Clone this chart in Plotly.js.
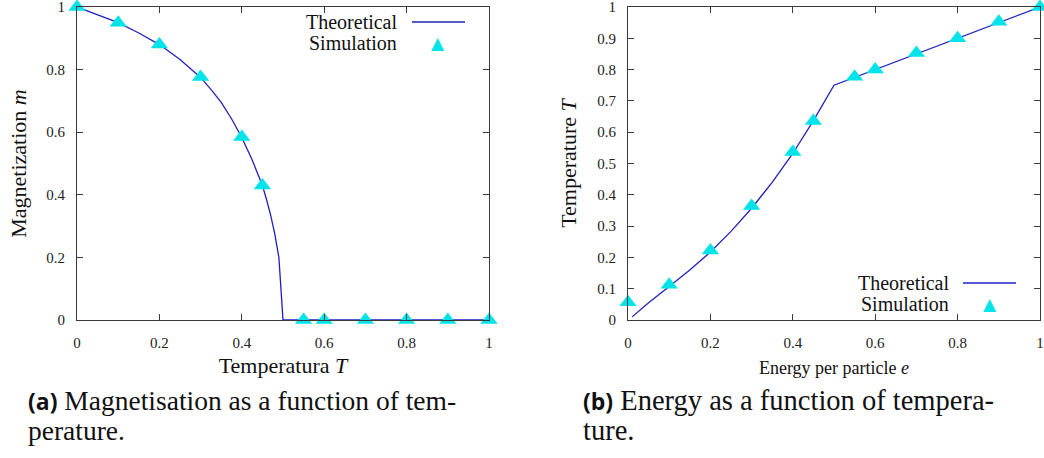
<!DOCTYPE html>
<html>
<head>
<meta charset="utf-8">
<script src="https://cdn.plot.ly/plotly-3.0.1.min.js"></script>
<style>
  html, body { margin: 0; padding: 0; background: #ffffff; }
  #chart { width: 1044px; height: 458px; }
</style>
</head>
<body>
<div id="chart"></div>
<script>
// ---- Panel (a): Magnetisation vs temperature ----
const magTheoryT = [0, 0.05, 0.1, 0.15, 0.2, 0.25, 0.3, 0.325, 0.35, 0.375, 0.4, 0.425, 0.45, 0.46, 0.47, 0.48, 0.49, 0.5, 0.6, 0.7, 0.8, 0.9, 1.0];
const magTheoryM = [1, 0.975, 0.95, 0.917, 0.88, 0.832, 0.775, 0.737, 0.695, 0.643, 0.583, 0.512, 0.43, 0.385, 0.335, 0.275, 0.2, 0, 0, 0, 0, 0, 0];
const magSimT = [0, 0.1, 0.2, 0.3, 0.4, 0.45, 0.55, 0.6, 0.7, 0.8, 0.9, 1.0];
const magSimM = [1, 0.95, 0.88, 0.776, 0.585, 0.43, 0, 0, 0, 0, 0, 0];

// ---- Panel (b): Temperature vs energy per particle ----
const enTheoryE = [0.01, 0.05, 0.1, 0.15, 0.2, 0.25, 0.3, 0.35, 0.4, 0.45, 0.5, 1.0];
const enTheoryT = [0.01, 0.055, 0.107, 0.16, 0.217, 0.283, 0.357, 0.44, 0.532, 0.637, 0.75, 1.0];
const enSimE = [0, 0.1, 0.2, 0.3, 0.4, 0.45, 0.55, 0.6, 0.7, 0.8, 0.9, 1.0];
const enSimT = [0.057, 0.113, 0.222, 0.364, 0.537, 0.636, 0.777, 0.8, 0.853, 0.9, 0.953, 1.0];

// ---- Tick values / labels ----
const ticks02 = [0, 0.2, 0.4, 0.6, 0.8, 1];
const ticks02Text = ["0", "0.2", "0.4", "0.6", "0.8", "1"];
const ticks01 = [0, 0.1, 0.2, 0.3, 0.4, 0.5, 0.6, 0.7, 0.8, 0.9, 1];
const ticks01Text = ["0", "0.1", "0.2", "0.3", "0.4", "0.5", "0.6", "0.7", "0.8", "0.9", "1"];

// ---- Text ----
const legendLabels = ["Theoretical", "Simulation"];
const captionA = ["Magnetisation as a function of tem-", "perature."];
const captionB = ["Energy as a function of tempera-", "ture."];

const W = 1044, H = 458;
const SERIF = "Liberation Serif";
const LINE_COLOR = "#2020c0";
const MARK_COLOR = "#00e3e8";
const AX_COLOR = "#3a3a3a";

const px = x => x / W;          // pixel -> paper x
const py = y => 1 - y / H;      // pixel -> paper y

const yDom = [py(320), py(7)];

function axisBase(extra) {
  return Object.assign({
    range: [0, 1],
    showgrid: false,
    zeroline: false,
    showline: true,
    linecolor: AX_COLOR,
    linewidth: 1,
    mirror: "allticks",
    ticks: "inside",
    ticklen: 6,
    tickwidth: 1,
    tickcolor: AX_COLOR,
    tickmode: "array",
    ticklabeloverflow: "allow",
    tickfont: { family: SERIF, size: 15, color: "#222" },
    fixedrange: true
  }, extra);
}

const lineStyle = { color: LINE_COLOR, width: 1.3 };
const markStyle = { symbol: "triangle-up", size: 15, color: MARK_COLOR, line: { width: 0 } };

const data = [
  { x: magTheoryT, y: magTheoryM, mode: "lines", line: lineStyle, xaxis: "x", yaxis: "y", name: legendLabels[0], cliponaxis: false },
  { x: magSimT, y: magSimM, mode: "markers", marker: markStyle, xaxis: "x", yaxis: "y", name: legendLabels[1], cliponaxis: false },
  { x: enTheoryE, y: enTheoryT, mode: "lines", line: lineStyle, xaxis: "x2", yaxis: "y2", name: legendLabels[0], cliponaxis: false },
  { x: enSimE, y: enSimT, mode: "markers", marker: markStyle, xaxis: "x2", yaxis: "y2", name: legendLabels[1], cliponaxis: false }
];

const legFont = { family: SERIF, size: 20, color: "#111" };

function legendItems(textRight, y1, y2, lineX0, lineX1, triX) {
  const ann = [
    { text: legendLabels[0], x: px(textRight), y: py(y1), xref: "paper", yref: "paper", xanchor: "right", yanchor: "middle", showarrow: false, font: legFont, borderpad: 0 },
    { text: legendLabels[1], x: px(textRight), y: py(y2), xref: "paper", yref: "paper", xanchor: "right", yanchor: "middle", showarrow: false, font: legFont, borderpad: 0 },
    { text: "\u25B2", x: px(triX), y: py(y2), xref: "paper", yref: "paper", xanchor: "center", yanchor: "middle", showarrow: false, font: { family: "DejaVu Sans", size: 17, color: MARK_COLOR }, borderpad: 0 }
  ];
  const shp = [
    { type: "line", xref: "paper", yref: "paper", x0: px(lineX0), x1: px(lineX1), y0: py(y1), y1: py(y1), line: lineStyle }
  ];
  return { ann, shp };
}

const legA = legendItems(398, 22, 43, 412, 465, 438);
const legB = legendItems(950, 283, 304, 963, 1016, 990);

function caption(label, lines, x, size) {
  const f = { family: SERIF, size: size, color: "#111" };
  return [
    { text: "<span style='font-family:Open Sans;font-weight:bold;font-size:23px'>" + label + "</span> " + lines[0],
      x: px(x), y: py(401), xref: "paper", yref: "paper", xanchor: "left", yanchor: "middle", showarrow: false, align: "left",
      font: f, borderpad: 0 },
    { text: lines[1],
      x: px(x), y: py(430), xref: "paper", yref: "paper", xanchor: "left", yanchor: "middle", showarrow: false, align: "left",
      font: f, borderpad: 0 }
  ];
}

const titleFont = { family: SERIF, size: 22, color: "#111" };

const layout = {
  width: W, height: H,
  margin: { l: 0, r: 0, t: 0, b: 0, pad: 0 },
  font: { family: SERIF, size: 15, color: "#111" },
  paper_bgcolor: "#ffffff",
  plot_bgcolor: "#ffffff",
  showlegend: false,
  xaxis: axisBase({ domain: [px(77), px(489)], anchor: "y", tickvals: ticks02, ticktext: ticks02Text, ticklabelstandoff: 9,
    title: { text: "Temperatura <i>T</i>", font: titleFont, standoff: 7 } }),
  yaxis: axisBase({ domain: yDom, anchor: "x", tickvals: ticks02, ticktext: ticks02Text, ticklabelstandoff: 8,
    title: { text: "Magnetization <i>m</i>", font: titleFont, standoff: 13 } }),
  xaxis2: axisBase({ domain: [px(628), px(1040)], anchor: "y2", tickvals: ticks02, ticktext: ticks02Text, ticklabelstandoff: 9,
    title: { text: "Energy per particle <i>e</i>", font: { family: SERIF, size: 18, color: "#111" }, standoff: 11 } }),
  yaxis2: axisBase({ domain: yDom, anchor: "x2", tickvals: ticks01, ticktext: ticks01Text, ticklabelstandoff: 8,
    title: { text: "Temperature <i>T</i>", font: titleFont, standoff: 14 } }),
  annotations: [].concat(legA.ann, legB.ann, caption("(a)", captionA, 27, 27.5), caption("(b)", captionB, 582, 28.5)),
  shapes: [].concat(legA.shp, legB.shp)
};

Plotly.newPlot("chart", data, layout, { staticPlot: true, displayModeBar: false });
</script>
</body>
</html>
